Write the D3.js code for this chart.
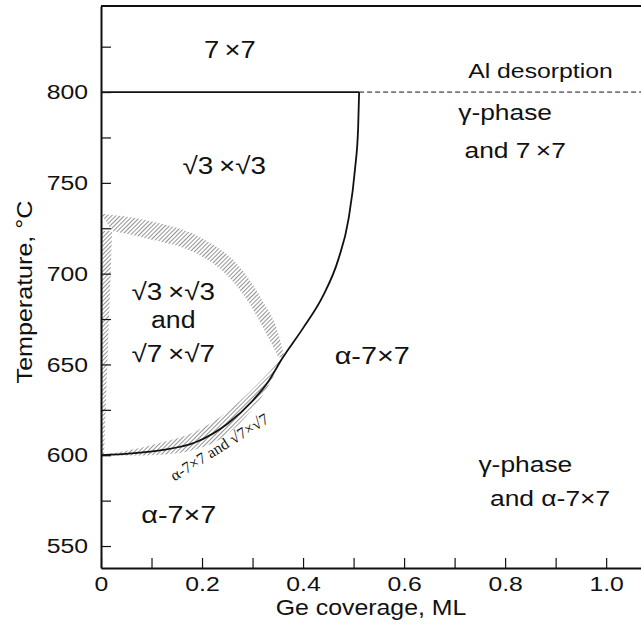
<!DOCTYPE html>
<html>
<head>
<meta charset="utf-8">
<script src="https://cdn.jsdelivr.net/npm/d3@7"></script>
<style>
  body { margin: 0; background: #fff; }
  text { font-family: "Liberation Sans", Arial, sans-serif; fill: #111; }
</style>
</head>
<body>
<div id="chart"></div>
<script>
// Ge coverage (ML) vs temperature (C)
var xTicks = [0, 0.1, 0.2, 0.3, 0.4, 0.5, 0.6, 0.7, 0.8, 0.9, 1.0];
var xLabels = ["0", "", "0.2", "", "0.4", "", "0.6", "", "0.8", "", "1.0"];
var yTicks = [550, 575, 600, 625, 650, 675, 700, 725, 750, 775, 800, 825];

// solid phase boundary, coverage / temperature
var boundary = [[0, 600], [0.06, 601], [0.12, 602.8], [0.186, 607], [0.251, 617.5],
  [0.3, 630], [0.331, 640.5], [0.358, 653], [0.40, 670], [0.44, 688],
  [0.47, 708], [0.49, 730], [0.503, 758], [0.509, 780], [0.511, 800]];
var desorptionT = 800;
var desorptionX = 0.511;

// hatched transition bands
var topOuter = [[0, 733], [0.097, 729], [0.196, 720], [0.275, 703.5], [0.32, 685],
  [0.35, 668], [0.363, 654]];
var topInner = [[0.022, 723.5], [0.097, 719], [0.186, 711.5], [0.25, 699], [0.295, 683],
  [0.325, 668], [0.351, 654]];
var leftBand = [[0, 723.5], [0.022, 723.5], [0.006, 600], [0, 600]];
var lowUpper = [[0, 600], [0.06, 603], [0.12, 607], [0.186, 613], [0.25, 624],
  [0.3, 636.5], [0.36, 654]];
var lowLower = [[0, 599.8], [0.05, 599.8], [0.12, 600.3], [0.186, 603], [0.25, 611.5],
  [0.3, 625.5], [0.33, 637.5], [0.36, 654]];

var labels = [
  { t: "7\u2009\u00d77", x: 0.255, y: 818.7, size: 24, sx: 1.14 },
  { t: "Al desorption", x: 0.87, y: 808, size: 20, sx: 1.24 },
  { t: "\u03b3-phase", x: 0.8, y: 784.6, size: 22, sx: 1.2 },
  { t: "and  7\u2009\u00d77", x: 0.82, y: 763.7, size: 22, sx: 1.2 },
  { t: "\u221a3\u2009\u00d7\u221a3", x: 0.244, y: 754.8, size: 24, sx: 1.16 },
  { t: "\u221a3\u2009\u00d7\u221a3", x: 0.143, y: 685.5, size: 24, sx: 1.16 },
  { t: "and", x: 0.143, y: 670, size: 23, sx: 1.16 },
  { t: "\u221a7\u2009\u00d7\u221a7", x: 0.143, y: 651.3, size: 24, sx: 1.16 },
  { t: "\u03b1-7\u00d77", x: 0.537, y: 650.5, size: 24, sx: 1.2 },
  { t: "\u03b3-phase", x: 0.84, y: 590.7, size: 22, sx: 1.2 },
  { t: "and  \u03b1-7\u00d77", x: 0.889, y: 572, size: 22, sx: 1.2 },
  { t: "\u03b1-7\u00d77", x: 0.154, y: 562.7, size: 24, sx: 1.2 }
];

var w = 641, h = 634;
var svg = d3.select("#chart").append("svg")
  .attr("width", w)
  .attr("height", h);

var x = d3.scaleLinear().domain([0, 1.069]).range([101, 641]);
var y = d3.scaleLinear().domain([537.9, 847.4]).range([568, 6]);

var defs = svg.append("defs");
defs.append("pattern")
  .attr("id", "hatch")
  .attr("patternUnits", "userSpaceOnUse")
  .attr("width", 3)
  .attr("height", 3)
  .attr("patternTransform", "rotate(45)")
  .append("line")
    .attr("x1", 0).attr("y1", 0)
    .attr("x2", 0).attr("y2", 3)
    .style("stroke", "#3a3a3a")
    .style("stroke-width", 1.1);

var line = d3.line()
  .x(function(d) { return x(d[0]); })
  .y(function(d) { return y(d[1]); })
  .curve(d3.curveMonotoneX);

var bands = svg.append("g").attr("class", "bands");

bands.append("path")
  .attr("d", line(topOuter) + line(topInner.slice().reverse()).replace("M", "L") + "Z")
  .style("fill", "url(#hatch)");

bands.append("path")
  .attr("d", d3.line()
    .x(function(d) { return x(d[0]); })
    .y(function(d) { return y(d[1]); })(leftBand) + "Z")
  .style("fill", "url(#hatch)");

bands.append("path")
  .attr("d", line(lowUpper) + line(lowLower.slice().reverse()).replace("M", "L") + "Z")
  .style("fill", "url(#hatch)");

// boundaries
svg.append("path")
  .attr("d", line(boundary))
  .style("fill", "none")
  .style("stroke", "#111")
  .style("stroke-width", 1.8);

svg.append("line")
  .attr("x1", x(0)).attr("x2", x(desorptionX))
  .attr("y1", y(desorptionT)).attr("y2", y(desorptionT))
  .style("stroke", "#111")
  .style("stroke-width", 1.8);

svg.append("line")
  .attr("x1", x(desorptionX)).attr("x2", x(1.069))
  .attr("y1", y(desorptionT)).attr("y2", y(desorptionT))
  .style("stroke", "#111")
  .style("stroke-width", 1)
  .style("stroke-dasharray", "5,3");

// axes
var xAxis = d3.axisBottom(x)
  .tickValues(xTicks)
  .tickSizeInner(-10)
  .tickSizeOuter(0)
  .tickPadding(8)
  .tickFormat(function(d, i) { return xLabels[i]; });

var yAxis = d3.axisLeft(y)
  .tickValues(yTicks)
  .tickSizeInner(-10)
  .tickSizeOuter(0)
  .tickPadding(11)
  .tickFormat(function(d) { return d % 50 === 0 ? d : ""; });

var gx = svg.append("g")
  .attr("transform", "translate(0," + 568 + ")")
  .call(xAxis);
var gy = svg.append("g")
  .attr("transform", "translate(" + 101 + ",0)")
  .call(yAxis);

[gx, gy].forEach(function(g) {
  g.select(".domain").style("stroke", "#111").style("stroke-width", 2);
  g.selectAll(".tick line").style("stroke", "#111").style("stroke-width", 1.2);
  g.selectAll(".tick text")
    .attr("transform", "scale(1.18,1)")
    .style("font-family", "'Liberation Sans', Arial, sans-serif")
    .style("font-size", "21px")
    .style("fill", "#111");
});

// top frame
svg.append("line")
  .attr("x1", 101).attr("x2", w)
  .attr("y1", 6).attr("y2", 6)
  .style("stroke", "#111")
  .style("stroke-width", 2);

svg.append("text")
  .attr("transform", "translate(371,615) scale(1.13,1)")
  .attr("text-anchor", "middle")
  .style("font-size", "22px")
  .text("Ge coverage, ML");

svg.append("text")
  .attr("transform", "translate(32,292) rotate(-90) scale(1.14,1)")
  .attr("text-anchor", "middle")
  .style("font-size", "22px")
  .text("Temperature,  \u00b0C");

svg.append("g").selectAll("text")
  .data(labels)
  .enter()
    .append("text")
    .attr("transform", function(d) {
      return "translate(" + x(d.x) + "," + y(d.y) + ") scale(" + d.sx + ",1)";
    })
    .attr("text-anchor", "middle")
    .style("font-size", function(d) { return d.size + "px"; })
    .text(function(d) { return d.t; });

svg.append("text")
  .attr("transform", "translate(" + x(0.24) + "," + y(602) + ") rotate(-32)")
  .attr("text-anchor", "middle")
  .style("font-family", "'Liberation Serif', 'Times New Roman', serif")
  .style("font-size", "16px")
  .text("\u03b1-7\u00d77 and \u221a7\u00d7\u221a7");
</script>
</body>
</html>
